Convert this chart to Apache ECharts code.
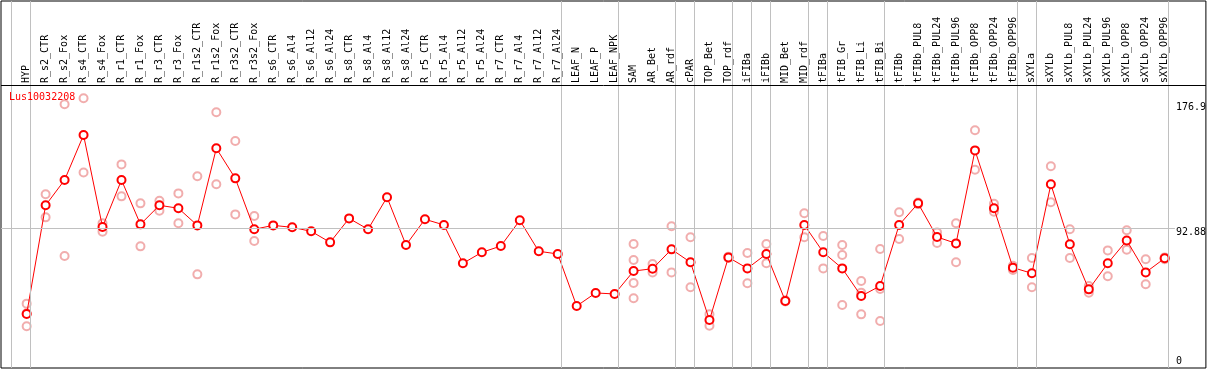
<!DOCTYPE html>
<html>
<head>
<meta charset="utf-8">
<script src="https://cdn.jsdelivr.net/npm/echarts@6/dist/echarts.min.js"></script>
<style>
html,body{margin:0;padding:0;background:#fff;}
#c{width:1209px;height:370px;}
</style>
</head>
<body>
<div id="c"></div>
<script>
var geneName = 'Lus10032208';
var categories = ['HYP','R_s2_CTR','R_s2_Fox','R_s4_CTR','R_s4_Fox','R_r1_CTR','R_r1_Fox','R_r3_CTR','R_r3_Fox','R_r1s2_CTR','R_r1s2_Fox','R_r3s2_CTR','R_r3s2_Fox','R_s6_CTR','R_s6_Al4','R_s6_Al12','R_s6_Al24','R_s8_CTR','R_s8_Al4','R_s8_Al12','R_s8_Al24','R_r5_CTR','R_r5_Al4','R_r5_Al12','R_r5_Al24','R_r7_CTR','R_r7_Al4','R_r7_Al12','R_r7_Al24','LEAF_N','LEAF_P','LEAF_NPK','SAM','AR_Bet','AR_rdf','cPAR','TOP_Bet','TOP_rdf','iFIBa','iFIBb','MID_Bet','MID_rdf','tFIBa','tFIB_Gr','tFIB_Li','tFIB_Bi','tFIBb','tFIBb_PUL8','tFIBb_PUL24','tFIBb_PUL96','tFIBb_OPP8','tFIBb_OPP24','tFIBb_OPP96','sXYLa','sXYLb','sXYLb_PUL8','sXYLb_PUL24','sXYLb_PUL96','sXYLb_OPP8','sXYLb_OPP24','sXYLb_OPP96'];
var means = [34.9,108.0,125.0,155.2,93.4,125.0,95.2,108.0,106.0,94.5,146.3,126.1,91.9,94.5,93.2,90.5,83.1,99.2,91.9,113.4,81.3,98.6,94.8,69.0,76.4,80.6,97.9,77.1,75.3,40.3,49.1,48.4,63.8,65.4,78.4,69.7,30.9,73.0,65.6,75.3,43.7,94.8,76.4,65.6,47.0,53.8,94.8,109.3,86.7,82.4,144.9,106.0,66.1,62.3,122.1,81.8,51.5,69.0,84.4,62.9,72.4];
var replicates = [[41.9,26.7,35.5],[115.4,99.9],[175.9,73.9],[179.9,130.1],[95.9,90.3],[135.5,114.0],[109.3,80.4],[111.1,104.4],[116.0,95.9],[127.5,61.6],[170.5,122.1],[151.2,101.9],[100.8,84.0],[],[],[],[],[],[],[],[],[],[],[],[],[],[],[],[],[],[],[],[82.0,71.2,55.8,45.5],[68.5,62.9],[93.9,62.9],[86.5,52.9],[34.7,27.1],[73.5,72.6],[75.9,55.6],[82.0,69.0],[44.2,43.3],[102.6,86.5],[87.4,65.6],[81.3,74.6,41.0],[57.1,49.3,34.7],[78.6,51.7,30.2],[103.3,85.3],[109.8,108.8],[89.8,82.7],[95.9,69.7],[158.4,131.9],[109.1,103.7],[67.4,64.5],[72.6,52.9],[134.2,110.0],[91.9,72.6],[53.8,49.3],[77.7,60.3],[91.2,78.2],[71.7,54.9],[73.0,71.8]];
var groupEnds = [-1,0,28,31,34,35,37,38,39,41,42,45,52,53,60];
var yTickValues = [92.88,176.9];
var yZeroValue = [0];
var refLine = 92.88;
var headerLine = 188.84;

var FONT = '"DejaVu Sans Mono", monospace';
var meanData = means.map(function(m,i){return [i,m];});
var repData = [];
replicates.forEach(function(r,i){ r.forEach(function(v){ repData.push([i,v]); }); });
var idx = categories.map(function(c,i){return i;});
var xMin = -1.3526, xMax = 62.1737;
var yMin = -1.344, yMax = 245.3;

var chart = echarts.init(document.getElementById('c'), null, {renderer:'canvas'});
chart.setOption({
  animation:false,
  backgroundColor:'#fff',
  title:{text:geneName,left:9,top:92,padding:0,textStyle:{color:'#ff0000',fontSize:10,fontWeight:'normal',fontFamily:FONT}},
  grid:{left:1,right:1,top:1,bottom:2,show:true,borderColor:'#000',borderWidth:1,backgroundColor:'transparent'},
  xAxis:{type:'value',position:'top',min:xMin,max:xMax,offset:-84,
    axisLine:{show:false},axisTick:{show:false},splitLine:{show:false},
    axisLabel:{customValues:idx,rotate:90,margin:2,color:'#000',fontSize:10,fontFamily:FONT,
      formatter:function(v){return categories[Math.round(v)]||'';}}},
  yAxis:[
    {type:'value',position:'right',min:yMin,max:yMax,
     axisLine:{show:false},axisTick:{show:false},splitLine:{show:false},
     axisLabel:{inside:true,customValues:yTickValues,margin:30,align:'left',verticalAlign:'top',color:'#000',fontSize:10,fontFamily:FONT}},
    {type:'value',position:'right',min:yMin,max:yMax,
     axisLine:{show:false},axisTick:{show:false},splitLine:{show:false},
     axisLabel:{inside:true,customValues:yZeroValue,margin:30,align:'left',verticalAlign:'bottom',color:'#000',fontSize:10,fontFamily:FONT}}
  ],
  series:[
    {type:'scatter',data:repData,symbol:'emptyCircle',symbolSize:8,silent:true,z:2,
     itemStyle:{color:'#ee9999',borderColor:'#ee9999',borderWidth:1.2},
     markLine:{silent:true,symbol:['none','none'],label:{show:false},animation:false,
       data:groupEnds.map(function(g){return {xAxis:g+0.21,lineStyle:{color:'#c0c0c0',width:1,type:'solid'}};})
         .concat([{yAxis:headerLine,lineStyle:{color:'#000',width:1,type:'solid'}}])
         .concat([[{coord:[xMin,refLine],lineStyle:{color:'#c0c0c0',width:1,type:'solid'}},{coord:[60.54,refLine]}]])}},
    {type:'line',data:meanData,symbol:'emptyCircle',symbolSize:8,silent:true,z:3,
     lineStyle:{color:'#ff0000',width:1},
     itemStyle:{color:'#ff0000',borderColor:'#ff0000',borderWidth:1.6}}
  ]
});
</script>
</body>
</html>
